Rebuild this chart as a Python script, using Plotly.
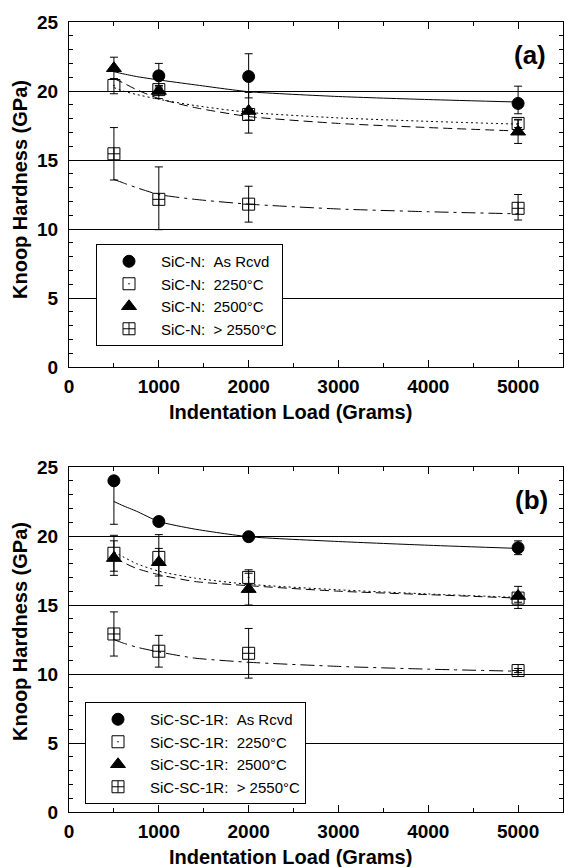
import plotly.graph_objects as go

# ---------------- data ----------------
loads = [500, 1000, 2000, 5000]
fit_x = [500, 600, 750, 1000, 1400, 2000, 3000, 4000, 5000]

series_names = ["As Rcvd", "2250°C", "2500°C", "> 2550°C"]

# Panel (a): SiC-N
a_rcvd = [None, 21.1, 21.05, 19.1]
a_rcvd_ep = [0, 0.9, 1.65, 1.25]
a_rcvd_em = [0, 0.9, 1.55, 0.75]
a_2250 = [20.4, 20.1, 18.3, 17.65]
a_2250_ep = [0.5, 0.3, 0.4, 0.3]
a_2250_em = [0.6, 0.3, 0.4, 0.3]
a_2500 = [21.65, 20.0, 18.55, 17.05]
a_2500_ep = [0.8, 0.3, 1.35, 0.85]
a_2500_em = [0.8, 0.55, 1.6, 0.85]
a_2550 = [15.45, 12.15, 11.8, 11.5]
a_2550_ep = [1.9, 2.35, 1.3, 1.0]
a_2550_em = [1.9, 2.2, 1.3, 0.85]

a_rcvd_fit = [21.4, 21.25, 21.05, 20.8, 20.45, 19.95, 19.6, 19.38, 19.2]
a_2250_fit = [20.25, 20.0, 19.75, 19.4, 18.95, 18.45, 18.05, 17.8, 17.6]
a_2500_fit = [20.9, 20.6, 20.1, 19.45, 18.8, 18.15, 17.65, 17.35, 17.1]
a_2550_fit = [13.6, 13.35, 13.0, 12.5, 12.15, 11.8, 11.45, 11.25, 11.1]

# Panel (b): SiC-SC-1R
b_rcvd = [24.0, 21.05, 19.95, 19.15]
b_rcvd_ep = [0, 0.15, 0.3, 0.5]
b_rcvd_em = [3.15, 0.15, 0.3, 0.5]
b_2250 = [18.75, 18.45, 17.0, 15.5]
b_2250_ep = [1.3, 0.65, 0.55, 0.3]
b_2250_em = [1.3, 1.35, 0.5, 0.3]
b_2500 = [18.4, 18.1, 16.15, 15.65]
b_2500_ep = [1.25, 2.0, 1.15, 0.7]
b_2500_em = [1.25, 1.7, 1.15, 0.9]
b_2550 = [12.9, 11.65, 11.5, 10.25]
b_2550_ep = [1.6, 1.15, 1.8, 0.15]
b_2550_em = [1.6, 1.15, 1.8, 0.15]

b_rcvd_fit = [22.5, 22.2, 21.8, 21.05, 20.5, 19.95, 19.6, 19.33, 19.1]
b_2250_fit = [18.85, 18.5, 18.0, 17.45, 16.95, 16.5, 16.1, 15.8, 15.55]
b_2500_fit = [18.4, 18.1, 17.65, 17.2, 16.7, 16.4, 16.0, 15.75, 15.5]
b_2550_fit = [12.5, 12.25, 11.95, 11.6, 11.15, 10.85, 10.55, 10.35, 10.2]

# ---------------- styles ----------------
FONT = "Liberation Sans, Arial, Helvetica, sans-serif"
NB = "\u00a0"
symbols = ["circle", "square-open-dot", "triangle-up", "square-cross-open"]
sizes = [12, 12, 13, 12]
dashes = ["solid", "2px,3px", "9px,5px", "14px,5px,3px,5px"]

W, H = 565, 867
ML, MR, MT, MB = 69, 2, 22, 55
PW = W - ML - MR
PH = H - MT - MB


def px_x(px):
    return (px - ML) / PW


def px_y(py):
    return (H - MB - py) / PH


fig = go.Figure()

panels = [
    ("x", "y", "legend", "SiC-N:" + NB + NB,
     [a_rcvd, a_2250, a_2500, a_2550],
     [a_rcvd_ep, a_2250_ep, a_2500_ep, a_2550_ep],
     [a_rcvd_em, a_2250_em, a_2500_em, a_2550_em],
     [a_rcvd_fit, a_2250_fit, a_2500_fit, a_2550_fit]),
    ("x2", "y2", "legend2", "SiC-SC-1R:" + NB + NB,
     [b_rcvd, b_2250, b_2500, b_2550],
     [b_rcvd_ep, b_2250_ep, b_2500_ep, b_2550_ep],
     [b_rcvd_em, b_2250_em, b_2500_em, b_2550_em],
     [b_rcvd_fit, b_2250_fit, b_2500_fit, b_2550_fit]),
]

for xa, ya, lg, prefix, vals, eps, ems, fits in panels:
    # fitted curves
    for i in range(4):
        fig.add_trace(go.Scatter(
            x=fit_x, y=fits[i], mode="lines", xaxis=xa, yaxis=ya,
            line=dict(color="black", width=1, dash=dashes[i], shape="spline", smoothing=0.6),
            showlegend=False, hoverinfo="skip"))
    # data points
    for i in range(4):
        fig.add_trace(go.Scatter(
            x=loads, y=vals[i], mode="markers", xaxis=xa, yaxis=ya,
            name=prefix + series_names[i].replace(" ", NB), legend=lg,
            marker=dict(symbol=symbols[i], size=sizes[i], color="black",
                        line=dict(color="black", width=1)),
            error_y=dict(type="data", symmetric=False, array=eps[i], arrayminus=ems[i],
                         color="black", thickness=1, width=4)))

axis_common = dict(
    showline=True, linecolor="black", linewidth=1, mirror="allticks",
    ticks="inside", ticklen=7, tickwidth=1, tickcolor="black",
    zeroline=False,
    tickfont=dict(family=FONT, size=19, color="black", weight="bold"),
)

xaxis_cfg = dict(axis_common, range=[0, 5500], tickvals=[0, 1000, 2000, 3000, 4000, 5000],
                 showgrid=False, ticklabelstandoff=2,
                 minor=dict(dtick=500, tick0=0, ticks="inside", ticklen=4, tickcolor="black", showgrid=False))
yaxis_cfg = dict(axis_common, range=[0, 25], tickvals=[0, 5, 10, 15, 20, 25],
                 showgrid=True, gridcolor="black", gridwidth=1, ticklabelstandoff=6,
                 minor=dict(dtick=1, tick0=0, ticks="inside", ticklen=4, tickcolor="black", showgrid=False))

top_a = 22
bot_a = 367
top_b = 467
bot_b = 812

legend_common = dict(xanchor="left", yanchor="top", bgcolor="white", bordercolor="black",
                     borderwidth=1, itemwidth=54, tracegroupgap=0,
                     font=dict(family=FONT, size=15, color="black"))

fig.update_layout(
    width=W, height=H, autosize=False,
    margin=dict(l=ML, r=MR, t=MT, b=MB),
    paper_bgcolor="white", plot_bgcolor="white",
    font=dict(family=FONT, color="black"),
    xaxis=dict(xaxis_cfg, domain=[0, 1], anchor="y"),
    yaxis=dict(yaxis_cfg, domain=[px_y(bot_a), px_y(top_a)], anchor="x"),
    xaxis2=dict(xaxis_cfg, domain=[0, 1], anchor="y2"),
    yaxis2=dict(yaxis_cfg, domain=[px_y(bot_b), px_y(top_b)], anchor="x2"),
    legend=dict(legend_common, x=px_x(96), y=px_y(244)),
    legend2=dict(legend_common, x=px_x(85), y=px_y(702)),
    showlegend=True,
)

bold = dict(family=FONT, color="black", weight="bold")
annots = [
    dict(text="(a)", x=px_x(530), y=px_y(55), font=dict(bold, size=26)),
    dict(text="(b)", x=px_x(531), y=px_y(500), font=dict(bold, size=26)),
    dict(text="Indentation Load (Grams)", x=px_x(290), y=px_y(412), font=dict(bold, size=20)),
    dict(text="Indentation Load (Grams)", x=px_x(290), y=px_y(857), font=dict(bold, size=20)),
    dict(text="Knoop Hardness (GPa)", x=px_x(20), y=px_y(190), textangle=-90, font=dict(bold, size=20)),
    dict(text="Knoop Hardness (GPa)", x=px_x(20), y=px_y(632), textangle=-90, font=dict(bold, size=20)),
]
for a in annots:
    fig.add_annotation(xref="paper", yref="paper", showarrow=False,
                       xanchor="center", yanchor="middle", **a)

fig.write_html("out.html", config={"displayModeBar": False},
               post_script="document.body.style.margin='0';document.body.style.overflow='hidden';")
